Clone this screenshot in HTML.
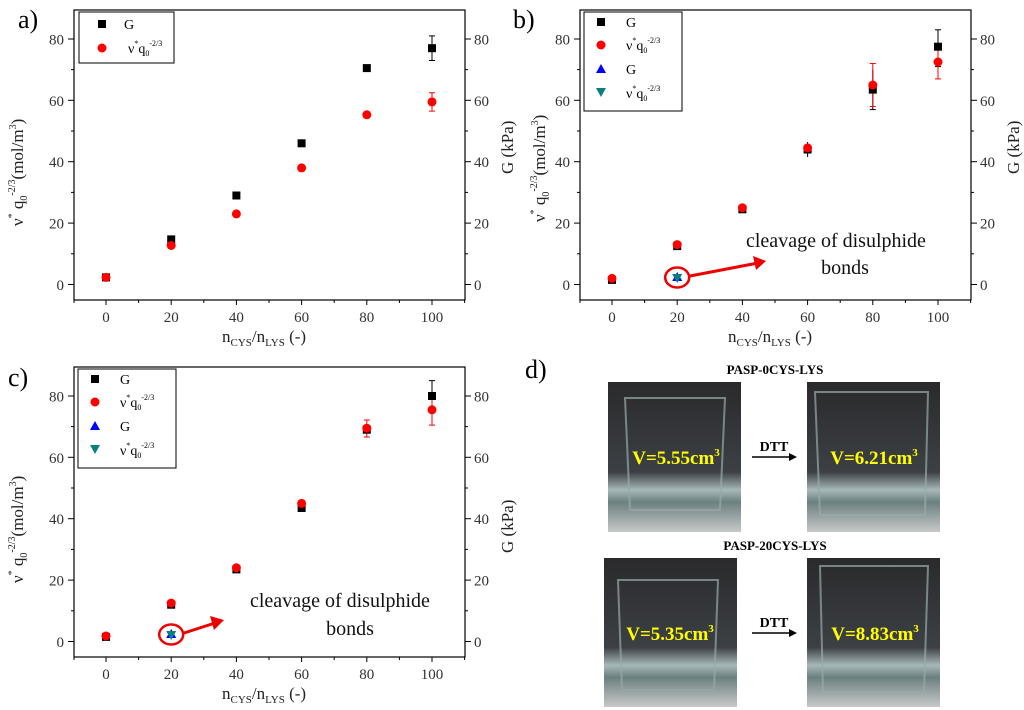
<!DOCTYPE html>
<html><head><meta charset="utf-8"><style>
body{margin:0;background:#fff}
svg{display:block;font-family:"Liberation Serif",serif}
</style></head><body>
<svg width="1024" height="710" viewBox="0 0 1024 710" xmlns="http://www.w3.org/2000/svg">
<defs>
<g id="axes">
<rect x="74" y="10" width="391" height="290" fill="none" stroke="#000" stroke-width="1.2"/>
<g stroke="#000" stroke-width="1">
<line x1="106" y1="300" x2="106" y2="305"/><line x1="171.2" y1="300" x2="171.2" y2="305"/><line x1="236.4" y1="300" x2="236.4" y2="305"/><line x1="301.6" y1="300" x2="301.6" y2="305"/><line x1="366.8" y1="300" x2="366.8" y2="305"/><line x1="432" y1="300" x2="432" y2="305"/>
<line x1="74" y1="300" x2="74" y2="303"/><line x1="138.6" y1="300" x2="138.6" y2="303"/><line x1="203.8" y1="300" x2="203.8" y2="303"/><line x1="269" y1="300" x2="269" y2="303"/><line x1="334.2" y1="300" x2="334.2" y2="303"/><line x1="399.4" y1="300" x2="399.4" y2="303"/><line x1="464.6" y1="300" x2="464.6" y2="303"/>
<line x1="68" y1="284.5" x2="74" y2="284.5"/><line x1="68" y1="223.1" x2="74" y2="223.1"/><line x1="68" y1="161.7" x2="74" y2="161.7"/><line x1="68" y1="100.3" x2="74" y2="100.3"/><line x1="68" y1="39" x2="74" y2="39"/>
<line x1="71" y1="253.8" x2="74" y2="253.8"/><line x1="71" y1="192.4" x2="74" y2="192.4"/><line x1="71" y1="131" x2="74" y2="131"/><line x1="71" y1="69.6" x2="74" y2="69.6"/>
<line x1="465" y1="284.5" x2="471" y2="284.5"/><line x1="465" y1="223.1" x2="471" y2="223.1"/><line x1="465" y1="161.7" x2="471" y2="161.7"/><line x1="465" y1="100.3" x2="471" y2="100.3"/><line x1="465" y1="39" x2="471" y2="39"/>
<line x1="465" y1="253.8" x2="468" y2="253.8"/><line x1="465" y1="192.4" x2="468" y2="192.4"/><line x1="465" y1="131" x2="468" y2="131"/><line x1="465" y1="69.6" x2="468" y2="69.6"/>
</g>
<g font-size="15" fill="#333" text-anchor="end">
<text x="64" y="290">0</text><text x="64" y="228.6">20</text><text x="64" y="167.2">40</text><text x="64" y="105.8">60</text><text x="64" y="44.5">80</text>
</g>
<g font-size="15" fill="#333">
<text x="474" y="290">0</text><text x="474" y="228.6">20</text><text x="474" y="167.2">40</text><text x="474" y="105.8">60</text><text x="474" y="44.5">80</text>
</g>
<g font-size="15" fill="#333" text-anchor="middle">
<text x="106" y="322">0</text><text x="171.2" y="322">20</text><text x="236.4" y="322">40</text><text x="301.6" y="322">60</text><text x="366.8" y="322">80</text><text x="432" y="322">100</text>
</g>
<text x="222" y="342" font-size="17" fill="#222">n<tspan font-size="11" dy="4">CYS</tspan><tspan dy="-4">/n</tspan><tspan font-size="11" dy="4">LYS</tspan><tspan dy="-4"> (-)</tspan></text>
</g>
<g id="ytitle">
<text font-size="17" fill="#222">ν<tspan font-size="10" dy="-8">*</tspan><tspan dy="8"> q</tspan><tspan font-size="10" dy="4">0</tspan><tspan font-size="10" dy="-12">-2/3</tspan><tspan dy="8">(mol/m</tspan><tspan font-size="10" dy="-7">3</tspan><tspan dy="7">)</tspan></text>
</g>
<g id="leg4">
<rect x="584" y="12" width="98" height="99" fill="#fff" stroke="#000"/>
<rect x="597" y="18" width="8" height="8" fill="#000"/><text x="626" y="27" font-size="14">G</text>
<circle cx="601" cy="45" r="4.5" fill="#f00"/><text x="626" y="50" font-size="14">ν<tspan font-size="8" dy="-7">*</tspan><tspan dy="7">q</tspan><tspan font-size="8" dy="3">0</tspan><tspan font-size="8" dy="-10">-2/3</tspan></text>
<polygon points="601,64 606,73 596,73" fill="#00f"/><text x="626" y="74" font-size="14">G</text>
<polygon points="596,88 606,88 601,97" fill="#0a7f7f"/><text x="626" y="98" font-size="14">ν<tspan font-size="8" dy="-7">*</tspan><tspan dy="7">q</tspan><tspan font-size="8" dy="3">0</tspan><tspan font-size="8" dy="-10">-2/3</tspan></text>
</g>
</defs>

<!-- panel a -->
<text x="18" y="28" font-size="26">a)</text>
<use href="#axes"/>
<use href="#ytitle" transform="translate(23,226) rotate(-90)"/>
<text transform="translate(513,174) rotate(-90)" font-size="17" fill="#222">G (kPa)</text>
<rect x="79" y="12" width="95" height="51" fill="#fff" stroke="#000"/>
<rect x="98" y="20" width="8" height="8" fill="#000"/><text x="124" y="29" font-size="14">G</text>
<circle cx="102" cy="48" r="4.5" fill="#f00"/><text x="128" y="53" font-size="14">ν<tspan font-size="8" dy="-7">*</tspan><tspan dy="7">q</tspan><tspan font-size="8" dy="3">0</tspan><tspan font-size="8" dy="-10">-2/3</tspan></text>
<g stroke="#000"><line x1="432" y1="60.5" x2="432" y2="35.9"/><line x1="429" y1="60.5" x2="435" y2="60.5"/><line x1="429" y1="35.9" x2="435" y2="35.9"/></g>
<g stroke="#f00"><line x1="432" y1="111.1" x2="432" y2="92.7"/><line x1="429" y1="111.1" x2="435" y2="111.1"/><line x1="429" y1="92.7" x2="435" y2="92.7"/></g>
<g fill="#000"><rect x="102" y="273.4" width="8" height="8"/><rect x="167.2" y="235.4" width="8" height="8"/><rect x="232.4" y="191.5" width="8" height="8"/><rect x="297.6" y="139.3" width="8" height="8"/><rect x="362.8" y="64.1" width="8" height="8"/><rect x="428" y="44.2" width="8" height="8"/></g>
<g fill="#f00"><circle cx="106" cy="277.4" r="4.5"/><circle cx="171.2" cy="245.5" r="4.5"/><circle cx="236.4" cy="213.9" r="4.5"/><circle cx="301.6" cy="167.9" r="4.5"/><circle cx="366.8" cy="114.8" r="4.5"/><circle cx="432" cy="101.9" r="4.5"/></g>

<!-- panel b -->
<text x="513" y="28" font-size="26">b)</text>
<use href="#ytitle" transform="translate(545,222) rotate(-90)"/>
<g transform="translate(506,0)">
<use href="#axes"/>
<text transform="translate(513,174) rotate(-90)" font-size="17" fill="#222">G (kPa)</text>
<g stroke="#000"><line x1="432" y1="66.6" x2="432" y2="29.8"/><line x1="429" y1="66.6" x2="435" y2="66.6"/><line x1="429" y1="29.8" x2="435" y2="29.8"/><line x1="366.8" y1="109.6" x2="366.8" y2="69.7"/><line x1="363.8" y1="109.6" x2="369.8" y2="109.6"/><line x1="301.6" y1="157" x2="301.6" y2="142"/></g>
<g stroke="#f00"><line x1="432" y1="78.9" x2="432" y2="45.1"/><line x1="429" y1="78.9" x2="435" y2="78.9"/><line x1="429" y1="45.1" x2="435" y2="45.1"/><line x1="366.8" y1="106.5" x2="366.8" y2="63.5"/><line x1="363.8" y1="63.5" x2="369.8" y2="63.5"/><line x1="363.8" y1="106.5" x2="369.8" y2="106.5"/></g>
<g fill="#000"><rect x="102" y="275.9" width="8" height="8"/><rect x="167.2" y="242.1" width="8" height="8"/><rect x="232.4" y="205.3" width="8" height="8"/><rect x="297.6" y="145.5" width="8" height="8"/><rect x="362.8" y="85.6" width="8" height="8"/><rect x="428" y="42.7" width="8" height="8"/></g>
<g fill="#f00"><circle cx="106" cy="278.4" r="4.5"/><circle cx="171.2" cy="244.6" r="4.5"/><circle cx="236.4" cy="207.8" r="4.5"/><circle cx="301.6" cy="147.9" r="4.5"/><circle cx="366.8" cy="85" r="4.5"/><circle cx="432" cy="62" r="4.5"/></g>
<polygon points="171.2,272 176.2,281 166.2,281" fill="#00f"/><polygon points="166.2,274 176.2,274 171.2,283" fill="#0a7f7f"/>
<ellipse cx="171.2" cy="277.5" rx="12" ry="10" fill="none" stroke="#e00" stroke-width="2.5"/>
<line x1="184" y1="276" x2="252" y2="263" stroke="#e00" stroke-width="3"/><polygon points="260,261 247,256 250,270" fill="#e00"/>
<text x="240" y="247" font-size="20" fill="#111">cleavage  of disulphide</text>
<text x="339" y="274" font-size="20" fill="#111" text-anchor="middle">bonds</text>
</g>
<use href="#leg4"/>

<!-- panel c -->
<text x="8" y="386" font-size="26">c)</text>
<g transform="translate(0,357)">
<use href="#axes"/>
<use href="#ytitle" transform="translate(23,226) rotate(-90)"/>
<text transform="translate(513,196) rotate(-90)" font-size="17" fill="#222">G (kPa)</text>
<use href="#leg4" transform="translate(-506,0)"/>
<g stroke="#000"><line x1="432" y1="54.3" x2="432" y2="23.6"/><line x1="429" y1="54.3" x2="435" y2="54.3"/><line x1="429" y1="23.6" x2="435" y2="23.6"/></g>
<g stroke="#f00"><line x1="432" y1="68.1" x2="432" y2="37.4"/><line x1="429" y1="68.1" x2="435" y2="68.1"/><line x1="429" y1="37.4" x2="435" y2="37.4"/><line x1="366.8" y1="80" x2="366.8" y2="63"/><line x1="363.8" y1="80" x2="369.8" y2="80"/><line x1="363.8" y1="63" x2="369.8" y2="63"/></g>
<g fill="#000"><rect x="102" y="275.9" width="8" height="8"/><rect x="167.2" y="243.7" width="8" height="8"/><rect x="232.4" y="208.4" width="8" height="8"/><rect x="297.6" y="147" width="8" height="8"/><rect x="362.8" y="68.7" width="8" height="8"/><rect x="428" y="35" width="8" height="8"/></g>
<g fill="#f00"><circle cx="106" cy="279" r="4.5"/><circle cx="171.2" cy="246.1" r="4.5"/><circle cx="236.4" cy="210.8" r="4.5"/><circle cx="301.6" cy="146.4" r="4.5"/><circle cx="366.8" cy="71.2" r="4.5"/><circle cx="432" cy="52.8" r="4.5"/></g>
<polygon points="171.2,272 176.2,281 166.2,281" fill="#00f"/><polygon points="166.2,274 176.2,274 171.2,283" fill="#0a7f7f"/>
<ellipse cx="171.2" cy="277.5" rx="12" ry="10" fill="none" stroke="#e00" stroke-width="2.5"/>
<line x1="184" y1="276" x2="215" y2="266" stroke="#e00" stroke-width="3"/><polygon points="224,263 210,259 214,273" fill="#e00"/>
<text x="250" y="250" font-size="20" fill="#111">cleavage  of disulphide</text>
<text x="350" y="278" font-size="20" fill="#111" text-anchor="middle">bonds</text>
</g>

<!-- panel d -->
<text x="525" y="378" font-size="26">d)</text>
<text x="775" y="374" font-size="13" font-weight="bold" text-anchor="middle">PASP-0CYS-LYS</text>
<text x="775" y="550" font-size="13" font-weight="bold" text-anchor="middle">PASP-20CYS-LYS</text>
<defs>
<linearGradient id="ph" x1="0" y1="0" x2="0" y2="1">
<stop offset="0" stop-color="#2a2a2c"/><stop offset="0.6" stop-color="#3c4044"/><stop offset="0.72" stop-color="#a8b8b8"/><stop offset="0.8" stop-color="#6c8080"/><stop offset="1" stop-color="#c8c8c8"/>
</linearGradient>
</defs>
<rect x="608" y="382" width="133" height="150" fill="url(#ph)"/>
<rect x="807" y="382" width="133" height="150" fill="url(#ph)"/>
<rect x="604" y="558" width="133" height="149" fill="url(#ph)"/>
<rect x="807" y="558" width="133" height="149" fill="url(#ph)"/>
<g fill="none" stroke="#9aa" stroke-width="2" opacity="0.7">
<path d="M625 398 L725 398 L720 510 L630 510 Z"/>
<path d="M815 392 L928 392 L925 515 L820 515 Z"/>
<path d="M618 580 L718 580 L714 690 L622 690 Z"/>
<path d="M820 566 L928 566 L924 692 L823 692 Z"/>
</g>
<g font-size="19" font-weight="bold" fill="#ff0" text-anchor="middle">
<text x="676" y="464">V=5.55cm<tspan font-size="11" dy="-8">3</tspan></text>
<text x="874" y="464">V=6.21cm<tspan font-size="11" dy="-8">3</tspan></text>
<text x="670" y="640">V=5.35cm<tspan font-size="11" dy="-8">3</tspan></text>
<text x="875" y="640">V=8.83cm<tspan font-size="11" dy="-8">3</tspan></text>
</g>
<g font-size="14" font-weight="bold" text-anchor="middle"><text x="774" y="451">DTT</text><text x="774" y="627">DTT</text></g>
<g stroke="#000" stroke-width="1.5"><line x1="752" y1="457" x2="793" y2="457"/><line x1="752" y1="633" x2="793" y2="633"/></g>
<polygon points="797,457 789,453 789,461"/><polygon points="797,633 789,629 789,637"/>
</svg>
</body></html>
